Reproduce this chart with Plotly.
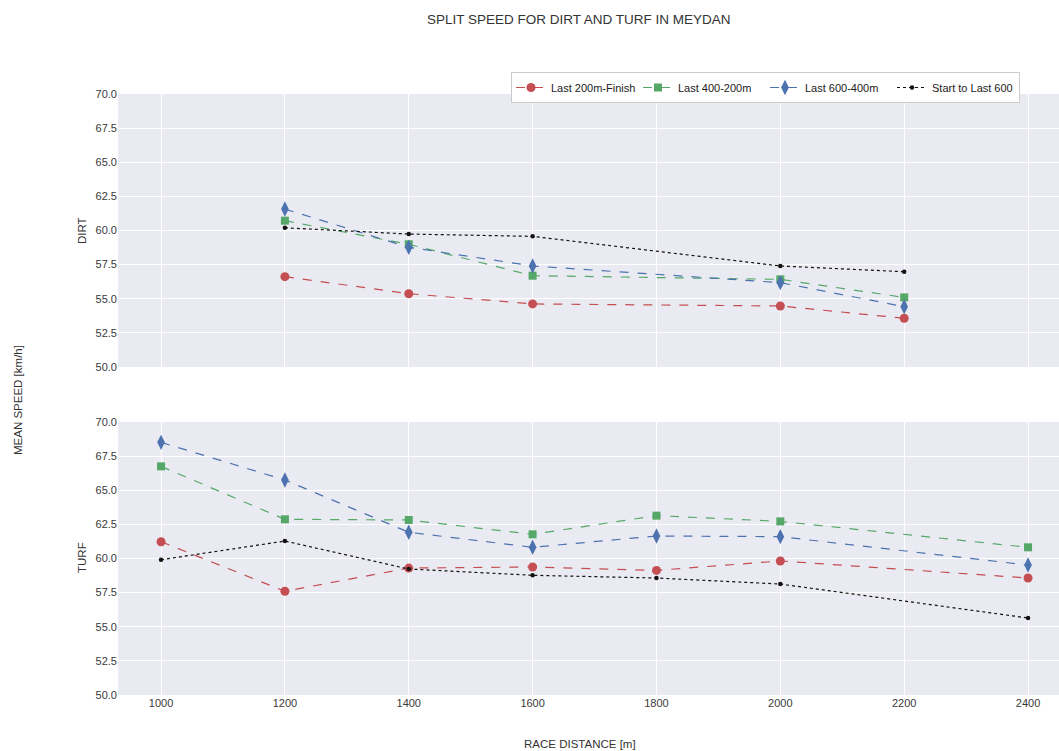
import plotly.graph_objects as go
from plotly.subplots import make_subplots

dirt_x = [1200, 1400, 1600, 2000, 2200]
dirt_last200 = [56.62, 55.37, 54.62, 54.47, 53.57]
dirt_400_200 = [60.72, 58.99, 56.69, 56.42, 55.10]
dirt_600_400 = [61.57, 58.77, 57.40, 56.18, 54.42]
dirt_start = [60.20, 59.74, 59.57, 57.40, 56.98]

turf_x = [1000, 1200, 1400, 1600, 1800, 2000, 2400]
turf_last200 = [61.23, 57.60, 59.30, 59.38, 59.13, 59.82, 58.57]
turf_400_200 = [66.75, 62.87, 62.82, 61.77, 63.14, 62.72, 60.82]
turf_600_400 = [68.51, 65.75, 61.92, 60.82, 61.65, 61.60, 59.52]
turf_start = [59.91, 61.28, 59.23, 58.77, 58.57, 58.13, 55.64]

names = ["Last 200m-Finish", "Last 400-200m", "Last 600-400m", "Start to Last 600"]
colors = ["#C44E52", "#55A868", "#4C72B0", "#111111"]
symbols = ["circle", "square", "diamond-tall", "circle"]
sizes = [9, 8, 11, 4.5]
dashes = ["dash", "dash", "dash", "dot"]

x_ticks = [1000, 1200, 1400, 1600, 1800, 2000, 2200, 2400]
y_ticks = [50.0, 52.5, 55.0, 57.5, 60.0, 62.5, 65.0, 67.5, 70.0]

fig = make_subplots(rows=2, cols=1, shared_xaxes=True)

dirt_series = [dirt_last200, dirt_400_200, dirt_600_400, dirt_start]
turf_series = [turf_last200, turf_400_200, turf_600_400, turf_start]

for i in range(4):
    fig.add_trace(go.Scatter(
        x=dirt_x, y=dirt_series[i], name=names[i], mode="lines+markers",
        line=dict(color=colors[i], width=1.2, dash=dashes[i]),
        marker=dict(color=colors[i], symbol=symbols[i], size=sizes[i]),
        showlegend=True, legendgroup=names[i]), row=1, col=1)
    fig.add_trace(go.Scatter(
        x=turf_x, y=turf_series[i], name=names[i], mode="lines+markers",
        line=dict(color=colors[i], width=1.2, dash=dashes[i]),
        marker=dict(color=colors[i], symbol=symbols[i], size=sizes[i]),
        showlegend=False, legendgroup=names[i]), row=2, col=1)

W = 1059.0
H = 751.0
L = 118.0
plot_w = W - L

axis_common = dict(showgrid=True, gridcolor="white", gridwidth=1.2, zeroline=False,
                   showline=False, ticks="", automargin=False,
                   tickfont=dict(size=11, color="#3a3a3a"))

fig.update_xaxes(range=[930.5, 2450], tickvals=x_ticks, **axis_common)
fig.update_xaxes(showticklabels=False, row=1, col=1)
fig.update_yaxes(range=[50, 70], tickvals=y_ticks, tickformat=".1f", **axis_common)

fig.update_layout(
    width=W, height=H,
    margin=dict(l=L, r=0, t=0, b=0, autoexpand=False),
    paper_bgcolor="white", plot_bgcolor="#EAEAF2",
    font=dict(family="Liberation Sans, Arial, sans-serif", color="#333333"),
    xaxis=dict(domain=[0, 1], anchor="y"),
    yaxis=dict(domain=[1 - 367 / H, 1 - 94 / H]),
    xaxis2=dict(domain=[0, 1], anchor="y2"),
    yaxis2=dict(domain=[1 - 695 / H, 1 - 422 / H]),
    legend=dict(orientation="h", x=(1020 - L) / plot_w, xanchor="right",
                y=1 - 72 / H, yanchor="top",
                bgcolor="white", bordercolor="#CCCCCC", borderwidth=1,
                font=dict(size=11, color="#222222"), itemwidth=30,
                entrywidth=82, entrywidthmode="pixels"),
    showlegend=True,
)

ann = [
    dict(text="SPLIT SPEED FOR DIRT AND TURF IN MEYDAN", xp=579, yp=20, angle=0, size=13.5),
    dict(text="DIRT", xp=82, yp=231, angle=-90, size=11.5),
    dict(text="TURF", xp=82, yp=558, angle=-90, size=11.5),
    dict(text="MEAN SPEED [km/h]", xp=18, yp=400, angle=-90, size=11.5),
    dict(text="RACE DISTANCE [m]", xp=580, yp=744, angle=0, size=11.5),
]
for a in ann:
    fig.add_annotation(text=a["text"], textangle=a["angle"], showarrow=False,
                       xref="paper", yref="paper",
                       x=(a["xp"] - L) / plot_w, y=1 - a["yp"] / H,
                       xanchor="center", yanchor="middle",
                       font=dict(size=a["size"], color="#333333"))

fig.write_html("out.html", config={"displayModeBar": False},
               post_script="document.body.style.margin='0';document.body.style.overflow='hidden';")
